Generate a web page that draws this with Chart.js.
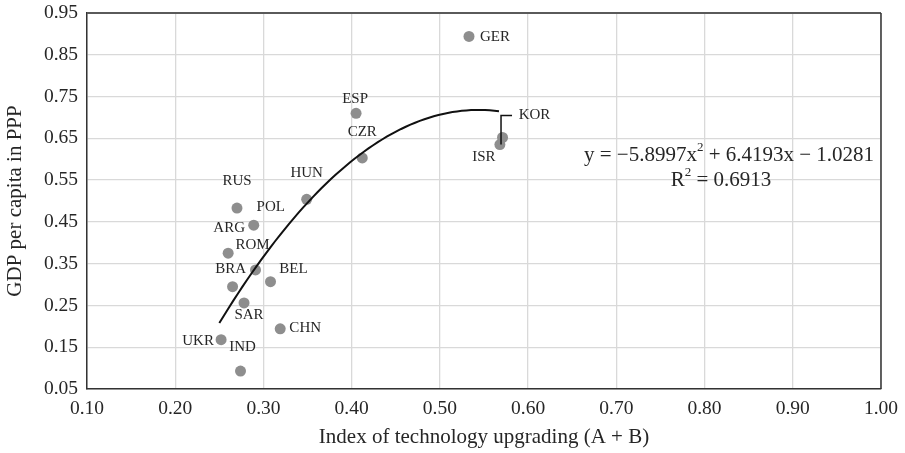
<!DOCTYPE html>
<html lang="en">
<head>
    <title>Technology upgrading vs GDP</title>
    <meta charset="UTF-8">
    <script src="https://cdn.jsdelivr.net/npm/chart.js@4.4.1/dist/chart.umd.min.js"></script>
    <style>
        body {margin:0;padding:0;background:#fff;}
        #wrap {width:905px;height:453px;}
    </style>
</head>
<body>
<div id="wrap"><canvas id="techChart" width="905" height="453"></canvas></div>
<script>
    const countries = ['RUS', 'POL', 'ARG', 'ROM', 'BRA', 'BEL', 'HUN', 'SAR', 'CHN', 'UKR', 'IND', 'GER', 'ESP', 'CZR', 'KOR', 'ISR'];
    const techIndex = [0.270, 0.289, 0.260, 0.291, 0.265, 0.308, 0.349, 0.278, 0.319, 0.252, 0.274, 0.533, 0.405, 0.412, 0.571, 0.568];
    const gdpPPP = [0.483, 0.442, 0.375, 0.335, 0.295, 0.307, 0.504, 0.256, 0.194, 0.168, 0.093, 0.894, 0.710, 0.603, 0.652, 0.635];
    const xTicks = [0.10, 0.20, 0.30, 0.40, 0.50, 0.60, 0.70, 0.80, 0.90, 1.00];
    const yTicks = [0.05, 0.15, 0.25, 0.35, 0.45, 0.55, 0.65, 0.75, 0.85, 0.95];
    // quadratic trendline as printed on the chart: a*x^2 + b*x + c
    const trendCoef = [-5.8997, 6.4193, -1.0281];
    const trendRange = [0.25, 0.567];
    const rSquared = 0.6913;

    // label offsets from each point, in px
    const labelOffsets = [[0,-27],[17,-18],[1,-25],[-3,-25],[-2,-18],[23,-13],[0,-26],[5,12],[25,-1],[-23,1],[2,-24],[26,1],[-1,-14],[0,-26],[32,-22],[-16,12]];

    const serif = '"Liberation Serif", "DejaVu Serif", serif';
    const textColor = '#262626';

    let points = techIndex.map((x, i) => ({x: x, y: gdpPPP[i]}));
    let trendPts = [];
    for (let k = 0; k <= 60; k++) {
        let x = trendRange[0] + (trendRange[1] - trendRange[0]) * k / 60;
        trendPts.push({x: x, y: trendCoef[0] * x * x + trendCoef[1] * x + trendCoef[2]});
    }

    const overlay = {
        id: 'overlay',
        afterDatasetsDraw(chart) {
            const ctx = chart.ctx;
            const xs = chart.scales.x, ys = chart.scales.y;
            const a = chart.chartArea;
            ctx.save();
            // frame
            ctx.strokeStyle = '#5a5a5a';
            ctx.lineWidth = 2;
            ctx.beginPath();
            ctx.moveTo(a.left, a.top); ctx.lineTo(a.right, a.top);
            ctx.stroke();
            ctx.strokeStyle = '#333';
            ctx.lineWidth = 1.5;
            ctx.beginPath();
            ctx.moveTo(a.right, a.top); ctx.lineTo(a.right, a.bottom);
            ctx.stroke();

            // country labels
            ctx.fillStyle = textColor;
            ctx.font = '15px ' + serif;
            ctx.textAlign = 'center';
            ctx.textBaseline = 'middle';
            countries.forEach((c, i) => {
                let px = xs.getPixelForValue(techIndex[i]);
                let py = ys.getPixelForValue(gdpPPP[i]);
                ctx.fillText(c, px + labelOffsets[i][0], py + labelOffsets[i][1]);
            });

            // leader line for KOR
            let k = countries.indexOf('KOR');
            let kx = xs.getPixelForValue(techIndex[k]);
            let ky = ys.getPixelForValue(gdpPPP[k]);
            ctx.strokeStyle = '#111';
            ctx.lineWidth = 1.5;
            ctx.beginPath();
            ctx.moveTo(kx - 1.5, ky + 7);
            ctx.lineTo(kx - 1.5, ky - 22);
            ctx.lineTo(kx + 9.5, ky - 22);
            ctx.stroke();

            // trendline equation
            const cx = 729;
            const big = '21px ' + serif, small = '13px ' + serif;
            const fmt = (v) => v.toFixed(4);
            let parts = [
                ['y = \u2212' + fmt(Math.abs(trendCoef[0])) + 'x', big, 0],
                ['2', small, -7],
                [' + ' + fmt(trendCoef[1]) + 'x \u2212 ' + fmt(Math.abs(trendCoef[2])), big, 0]
            ];
            drawParts(ctx, parts, cx, 155);
            let parts2 = [
                ['R', big, 0],
                ['2', small, -7],
                [' = ' + fmt(rSquared), big, 0]
            ];
            drawParts(ctx, parts2, cx - 8, 180);
            ctx.restore();
        }
    };

    function drawParts(ctx, parts, cx, cy) {
        let total = 0;
        parts.forEach(p => { ctx.font = p[1]; total += ctx.measureText(p[0]).width; });
        let x = cx - total / 2;
        ctx.textAlign = 'left';
        ctx.textBaseline = 'middle';
        ctx.fillStyle = textColor;
        parts.forEach(p => {
            ctx.font = p[1];
            ctx.fillText(p[0], x, cy + p[2]);
            x += ctx.measureText(p[0]).width;
        });
    }

    let ctx = document.getElementById('techChart');
    let techChart = new Chart(ctx, {
        type: 'scatter',
        data: {
            datasets: [{
                label: 'Trend',
                data: trendPts,
                showLine: true,
                borderColor: '#111',
                borderWidth: 2,
                pointRadius: 0,
                fill: false
            }, {
                label: 'Countries',
                data: points,
                backgroundColor: '#8e8e8e',
                borderColor: '#8e8e8e',
                borderWidth: 0,
                pointRadius: 5.5
            }]
        },
        options: {
            responsive: false,
            animation: false,
            layout: {padding: {top: 13, right: 24, left: 0, bottom: 0}},
            plugins: {
                legend: {display: false},
                tooltip: {enabled: false}
            },
            scales: {
                x: {
                    type: 'linear',
                    min: xTicks[0],
                    max: xTicks[xTicks.length - 1],
                    afterBuildTicks: (s) => { s.ticks = xTicks.map(v => ({value: v})); },
                    afterFit: (s) => { s.height = 64; s.paddingLeft = 0; s.paddingRight = 0; },
                    grid: {color: '#d9d9d9', lineWidth: 1.3, drawTicks: false},
                    border: {display: true, color: '#333', width: 1.5},
                    ticks: {
                        color: textColor,
                        padding: 8,
                        font: {family: serif, size: 19.5},
                        callback: (v) => Number(v).toFixed(2)
                    },
                    title: {
                        display: true,
                        text: 'Index of technology upgrading (A + B)',
                        color: textColor,
                        font: {family: serif, size: 21},
                        padding: {top: 0, bottom: 3}
                    }
                },
                y: {
                    type: 'linear',
                    min: yTicks[0],
                    max: yTicks[yTicks.length - 1],
                    afterBuildTicks: (s) => { s.ticks = yTicks.map(v => ({value: v})); },
                    afterFit: (s) => { s.width = 87; s.paddingTop = 0; s.paddingBottom = 0; },
                    grid: {color: '#d9d9d9', lineWidth: 1.3, drawTicks: false},
                    border: {display: true, color: '#333', width: 1.5},
                    ticks: {
                        color: textColor,
                        padding: 9,
                        font: {family: serif, size: 19.5},
                        callback: (v) => Number(v).toFixed(2)
                    },
                    title: {
                        display: true,
                        text: 'GDP per capita in PPP',
                        color: textColor,
                        font: {family: serif, size: 21},
                        padding: {top: 3, bottom: 0}
                    }
                }
            }
        },
        plugins: [overlay]
    });
</script>
</body>
</html>
